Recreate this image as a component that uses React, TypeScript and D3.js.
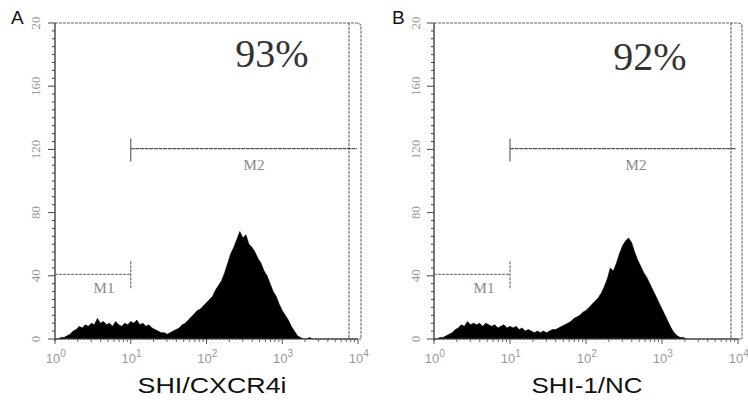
import React from "react";
import * as d3 from "d3";

// Histogram bin width in decades (100 channels over 4 decades)
const BIN_DECADES = 0.04;

const countsA = [
  0, 0, 1, 1, 2, 3, 5, 6, 8, 7,
  9, 8, 10, 9, 13, 10, 11, 9, 10, 8,
  11, 9, 8, 10, 9, 11, 10, 12, 9, 10,
  8, 9, 7, 6, 5, 4, 4, 3, 4, 5,
  6, 7, 9, 10, 12, 14, 16, 18, 19, 21,
  23, 25, 27, 31, 34, 37, 42, 48, 54, 58,
  63, 68, 64, 66, 60, 58, 55, 51, 48, 43,
  40, 35, 30, 27, 22, 18, 15, 12, 8, 5,
  2, 1, 0, 0, 1, 0, 0, 0, 0, 0,
  0, 0, 0, 0, 0, 0, 0, 0, 0, 0,
];

const countsB = [
  0, 0, 1, 1, 2, 3, 4, 6, 7, 9,
  8, 11, 9, 10, 9, 10, 8, 10, 9, 8,
  9, 7, 8, 9, 7, 8, 7, 8, 6, 7,
  5, 6, 5, 4, 5, 4, 5, 4, 5, 6,
  6, 7, 8, 9, 10, 11, 13, 14, 15, 17,
  18, 20, 22, 24, 26, 29, 33, 38, 45, 43,
  48, 54, 59, 62, 64, 61, 55, 50, 46, 42,
  39, 35, 31, 27, 23, 19, 15, 11, 7, 4,
  2, 1, 1, 0, 0, 0, 0, 0, 0, 0,
  0, 0, 0, 0, 0, 0, 0, 0, 0, 0,
];

const yTickValues = [0, 40, 80, 120, 160, 200];
const yTickLabels = ["0", "40", "80", "120", "160", "20"];
const xDecades = [0, 1, 2, 3, 4];

const panelLetters = ["A", "B"];
const titles = ["SHI/CXCR4i", "SHI-1/NC"];
const percents = ["93%", "92%"];
const m1Labels = ["M1", "M1"];
const m2Labels = ["M2", "M2"];
// marker definitions: [start, end] in fluorescence units, count level
const m1Range = [1, 10];
const m1Level = 41;
const m2Range = [10, 8500];
const m2Level = 120.5;

type PanelCfg = {
  left: number;
  axisRight: number;
  frameRight: number;
  vline: number;
  letterX: number;
  labelX: number;
  titleX: number;
  titleLen: number;
  pctX: number;
  pctY: number;
  m1LabelX: number;
  m2LabelX: number;
  m2End: number;
};

const cfgs: PanelCfg[] = [
  { left: 55, axisRight: 358, frameRight: 361, vline: 349, letterX: 11, labelX: 40, titleX: 212, titleLen: 149, pctX: 272, pctY: 67, m1LabelX: 104, m2LabelX: 254, m2End: 357 },
  { left: 434, axisRight: 738, frameRight: 742, vline: 731, letterX: 392, labelX: 420, titleX: 587, titleLen: 111, pctX: 650, pctY: 70, m1LabelX: 484, m2LabelX: 636, m2End: 736 },
];

const TOP = 23;
const BOTTOM = 339;

function Panel({ idx, counts }: { idx: number; counts: number[] }) {
  const c = cfgs[idx];
  const x = d3.scaleLog().domain([1, 10000]).range([c.left, c.axisRight]);
  const y = d3.scaleLinear().domain([0, 200]).range([BOTTOM, TOP]);

  const pts = counts.map((v, i) => ({ x: Math.pow(10, i * BIN_DECADES), v }));
  pts.push({ x: 10000, v: 0 });
  const area = d3
    .area<{ x: number; v: number }>()
    .x((d) => x(d.x))
    .y0(y(0))
    .y1((d) => y(d.v))
    .curve(d3.curveLinear);

  const frameStroke = "#666";
  const dash = "3 1";

  const minorY = d3.range(0, 201, 5);
  const minorX: number[] = [];
  for (let dec = 0; dec < 4; dec++) {
    for (let k = 2; k <= 9; k++) minorX.push(k * Math.pow(10, dec));
  }

  const r = 4;
  return (
    <g>
      {/* histogram */}
      <path d={area(pts) || ""} fill="#000" stroke="#000" strokeWidth={0.6} />
      {/* frame top & right with rounded corner */}
      <path
        d={`M${c.left},${TOP} L${c.frameRight - r},${TOP} Q${c.frameRight},${TOP} ${c.frameRight},${TOP + r} L${c.frameRight},${BOTTOM}`}
        fill="none"
        stroke={frameStroke}
        strokeWidth={1.1}
        strokeDasharray={dash}
      />
      {/* inner vertical line */}
      <line x1={c.vline} x2={c.vline} y1={TOP} y2={BOTTOM} stroke={frameStroke} strokeWidth={1.1} strokeDasharray={dash} />
      {/* y axis */}
      <line x1={c.left} x2={c.left} y1={TOP} y2={BOTTOM + 2} stroke="#333" strokeWidth={1.3} />
      {minorY.map((v) => (
        <line key={"my" + v} x1={c.left - (v % 40 === 0 ? 7 : 3)} x2={c.left} y1={y(v)} y2={y(v)} stroke="#444" strokeWidth={1} />
      ))}
      {yTickValues.map((v, i) => (
        <text
          key={"yl" + v}
          transform={`translate(${c.labelX},${y(v)}) rotate(-90)`}
          textAnchor="middle"
          fontFamily="Liberation Serif, serif"
          fontSize={13}
          fill="#999"
        >
          {yTickLabels[i]}
        </text>
      ))}
      {/* x axis */}
      <line x1={c.left} x2={c.frameRight} y1={BOTTOM} y2={BOTTOM} stroke="#555" strokeWidth={1.1} strokeDasharray={dash} />
      {minorX.map((v) => (
        <line key={"mx" + v} x1={x(v)} x2={x(v)} y1={BOTTOM} y2={BOTTOM + 3} stroke="#666" strokeWidth={1} />
      ))}
      {xDecades.map((d) => (
        <g key={"xd" + d}>
          <line x1={x(Math.pow(10, d))} x2={x(Math.pow(10, d))} y1={BOTTOM} y2={BOTTOM + 5} stroke="#555" strokeWidth={1} />
          <text x={x(Math.pow(10, d)) - 2} y={363} textAnchor="middle" fontFamily="Liberation Sans, Arial, sans-serif" fontSize={13} fill="#999">
            10
          </text>
          <text x={x(Math.pow(10, d)) + 8} y={357} textAnchor="middle" fontFamily="Liberation Sans, Arial, sans-serif" fontSize={10} fill="#999">
            {d}
          </text>
        </g>
      ))}
      {/* M1 marker */}
      <line x1={x(m1Range[0])} x2={x(m1Range[1])} y1={y(m1Level)} y2={y(m1Level)} stroke="#666" strokeWidth={1.1} strokeDasharray={dash} />
      <line x1={x(m1Range[1])} x2={x(m1Range[1])} y1={y(m1Level) - 13} y2={y(m1Level) + 15} stroke="#666" strokeWidth={1.1} strokeDasharray={dash} />
      <text x={c.m1LabelX} y={293} textAnchor="middle" fontFamily="Liberation Serif, serif" fontSize={15} fill="#888">
        {m1Labels[idx]}
      </text>
      {/* M2 marker */}
      <line x1={x(m2Range[0])} x2={c.m2End} y1={y(m2Level)} y2={y(m2Level)} stroke="#555" strokeWidth={1.2} strokeDasharray="4 0.6" />
      <line x1={x(m2Range[0])} x2={x(m2Range[0])} y1={y(m2Level) - 10} y2={y(m2Level) + 13} stroke="#555" strokeWidth={1.1} />
      <text x={c.m2LabelX} y={170} textAnchor="middle" fontFamily="Liberation Serif, serif" fontSize={15} fill="#888">
        {m2Labels[idx]}
      </text>
      {/* percentage */}
      <text x={c.pctX} y={c.pctY} textAnchor="middle" fontFamily="Liberation Serif, 'Times New Roman', serif" fontSize={40} fill="#333">
        {percents[idx]}
      </text>
      {/* title */}
      <text
        x={c.titleX - c.titleLen / 2}
        y={393}
        fontFamily="Liberation Sans, Arial, sans-serif"
        fontSize={22}
        fill="#111"
        textLength={c.titleLen}
        lengthAdjust="spacingAndGlyphs"
      >
        {titles[idx]}
      </text>
      {/* panel letter */}
      <text x={c.letterX} y={24} fontFamily="Liberation Sans, Arial, sans-serif" fontSize={19} fill="#111">
        {panelLetters[idx]}
      </text>
    </g>
  );
}

export default function App() {
  return (
    <svg
      width={748}
      height={400}
      viewBox="0 0 748 400"
      style={{ position: "fixed", left: 0, top: 0, background: "#fff" }}
    >
      <rect width={748} height={400} fill="#fff" />
      <Panel idx={0} counts={countsA} />
      <Panel idx={1} counts={countsB} />
    </svg>
  );
}
